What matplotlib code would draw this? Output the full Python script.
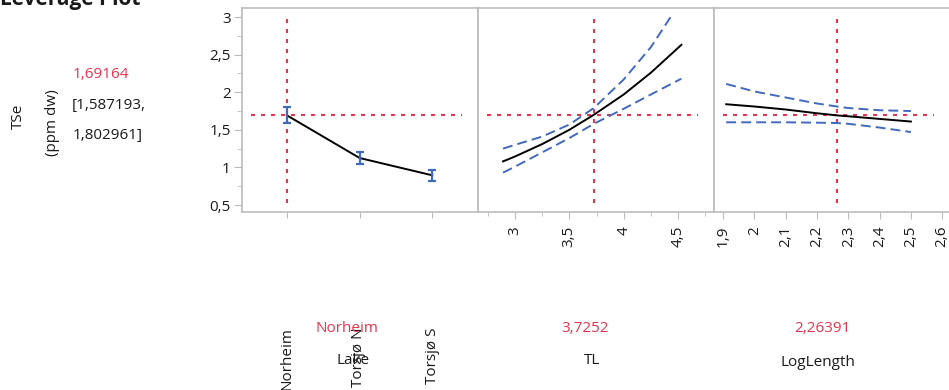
"""Leverage plot (JMP style prediction profiler) for TSe vs Lake, TL, LogLength."""

import matplotlib
matplotlib.use("Agg")
import matplotlib.pyplot as plt
from matplotlib.ticker import FixedLocator, FuncFormatter

plt.rcParams["font.family"] = ["Open Sans", "DejaVu Sans"]

# ---- data ----
lakes = ["Norheim", "Torsjø N", "Torsjø S"]
lake_mean = [1.69164, 1.125, 0.895]
lake_lo = [1.587193, 1.045, 0.825]
lake_hi = [1.802961, 1.200, 0.965]

tl_x = [2.89, 3.0, 3.25, 3.5, 3.7252, 4.0, 4.25, 4.53]
tl_fit = [1.08, 1.145, 1.31, 1.50, 1.70, 1.97, 2.26, 2.63]
tl_up_x = [2.89, 3.0, 3.25, 3.5, 3.7252, 4.0, 4.25, 4.44]
tl_up = [1.25, 1.30, 1.41, 1.57, 1.79, 2.17, 2.60, 3.02]
tl_lo = [0.93, 1.01, 1.20, 1.39, 1.58, 1.78, 1.97, 2.18]

ll_x = [1.91, 2.0, 2.1, 2.2, 2.26391, 2.3, 2.4, 2.5]
ll_fit = [1.84, 1.81, 1.77, 1.72, 1.69164, 1.68, 1.645, 1.61]
ll_up = [2.11, 2.01, 1.93, 1.85, 1.81, 1.79, 1.76, 1.75]
ll_lo = [1.60, 1.60, 1.60, 1.595, 1.59, 1.58, 1.53, 1.47]

current = {"Lake": "Norheim", "TL": 3.7252, "LogLength": 2.26391}
pred = 1.69164
pred_ci = [1.587193, 1.802961]

y_ticks = [0.5, 1, 1.5, 2, 2.5, 3]
tl_ticks = [3, 3.5, 4, 4.5]
ll_ticks = [1.9, 2.0, 2.1, 2.2, 2.3, 2.4, 2.5, 2.6]

RED = "#e8334d"
BLUE = "#4169bd"
GRAY = "#bcbcbc"
TXT = "#1a1a1a"
FS = 11

W, H = 949, 390


def fx(px):
    return px / W


def fy(py):
    return 1 - py / H


def comma(v, _pos=None):
    return f"{v:.10g}".replace(".", ",")


fig = plt.figure(figsize=(W / 100, H / 100), dpi=100)

bottom, top = fy(212), fy(8)
panel_w = fx(236)
axes = [fig.add_axes([fx(x0), bottom, panel_w, top - bottom]) for x0 in (242, 478, 714)]

dots = dict(color=RED, lw=1.5, ls=(0, (1.9, 2.9)), zorder=1)
dashes = dict(color=BLUE, lw=1.4, ls=(0, (5.1, 2.6)), zorder=2)

for ax in axes:
    ax.set_ylim(0.407, 3.12)
    for s in ax.spines.values():
        s.set_color(GRAY)
        s.set_linewidth(1.2)
    ax.tick_params(colors=GRAY, labelcolor=TXT, labelsize=FS)
    ax.axhline(pred, xmin=9 / 236, xmax=220 / 236, **dots)

# y axis only on first panel
ax1, ax2, ax3 = axes
ax1.yaxis.set_major_locator(FixedLocator(y_ticks))
ax1.yaxis.set_minor_locator(FixedLocator([0.75, 1.25, 1.75, 2.25, 2.75]))
ax1.yaxis.set_major_formatter(FuncFormatter(lambda v, p: f"{v:g}".replace(".", ",")))
ax1.tick_params(axis="y", which="major", length=6, pad=2)
ax1.tick_params(axis="y", which="minor", length=3.5, colors=GRAY)
for ax in (ax2, ax3):
    ax.tick_params(axis="y", left=False, labelleft=False)

# --- Lake panel ---
pos = list(range(len(lakes)))
ax1.set_xlim(-0.62, 2.63)
ax1.set_xticks(pos)
ax1.tick_params(axis="x", length=4, labelbottom=False)
ax1.plot(pos, lake_mean, color="black", lw=1.4, zorder=3)
yerr = [[m - lo for m, lo in zip(lake_mean, lake_lo)],
        [hi - m for m, hi in zip(lake_mean, lake_hi)]]
ax1.errorbar(pos, lake_mean, yerr=yerr, fmt="none", ecolor=BLUE,
             elinewidth=1.6, capsize=3, capthick=1.6, zorder=4)
ax1.axvline(lakes.index(current["Lake"]), ymin=0.044, ymax=0.956, **dots)

# --- TL panel ---
ax2.set_xlim(2.66, 4.83)
ax2.xaxis.set_major_locator(FixedLocator(tl_ticks))
ax2.xaxis.set_minor_locator(FixedLocator([2.75, 3.25, 3.75, 4.25, 4.75]))
ax2.xaxis.set_major_formatter(FuncFormatter(lambda v, p: f"{v:g}".replace(".", ",")))
ax2.plot(tl_x, tl_fit, color="black", lw=1.4, zorder=3)
ax2.plot(tl_up_x, tl_up, **dashes)
ax2.plot(tl_x, tl_lo, **dashes)
ax2.axvline(current["TL"], ymin=0.044, ymax=0.956, **dots)

# --- LogLength panel ---
ax3.set_xlim(1.871, 2.625)
ax3.xaxis.set_major_locator(FixedLocator(ll_ticks))
ax3.xaxis.set_major_formatter(FuncFormatter(lambda v, p: f"{round(v, 2):g}".replace(".", ",")))
ax3.plot(ll_x, ll_fit, color="black", lw=1.4, zorder=3)
ax3.plot(ll_x, ll_up, **dashes)
ax3.plot(ll_x, ll_lo, **dashes)
ax3.axvline(current["LogLength"], ymin=0.044, ymax=0.956, **dots)

for ax in (ax2, ax3):
    ax.tick_params(axis="x", which="major", length=5, pad=5, labelrotation=90)
    ax.tick_params(axis="x", which="minor", length=3, colors=GRAY)

# --- texts ---
fig.text(fx(0), fy(5), "Leverage Plot", fontsize=15, fontweight="bold",
         color=TXT, ha="left", va="baseline")
fig.text(fx(18), fy(116), "TSe", rotation=90, fontsize=FS, color=TXT,
         ha="center", va="center")
fig.text(fx(52), fy(123), "(ppm dw)", rotation=90, fontsize=FS, color=TXT,
         ha="center", va="center")
fig.text(fx(73), fy(74), comma(pred), fontsize=FS, color=RED,
         ha="left", va="center")
fig.text(fx(72), fy(106), "[" + comma(pred_ci[0]) + ",", fontsize=FS, color=TXT,
         ha="left", va="center")
fig.text(fx(73), fy(135), comma(pred_ci[1]) + "]", fontsize=FS, color=TXT,
         ha="left", va="center")

for px, name in zip((287, 359, 432), lakes):
    fig.text(fx(px), fy(327), name, rotation=90, fontsize=FS, color=TXT,
             ha="center", va="top")

for px, lx, val, lab, ly in ((347, 353, current["Lake"], "Lake", 360),
                             (585, 592, comma(current["TL"]), "TL", 360),
                             (822, 818, comma(current["LogLength"]), "LogLength", 363)):
    fig.text(fx(px), fy(329), val, fontsize=FS, color=RED, ha="center", va="center")
    fig.text(fx(lx), fy(ly), lab, fontsize=FS, color=TXT, ha="center", va="center")

fig.savefig("out.png", dpi=100)
